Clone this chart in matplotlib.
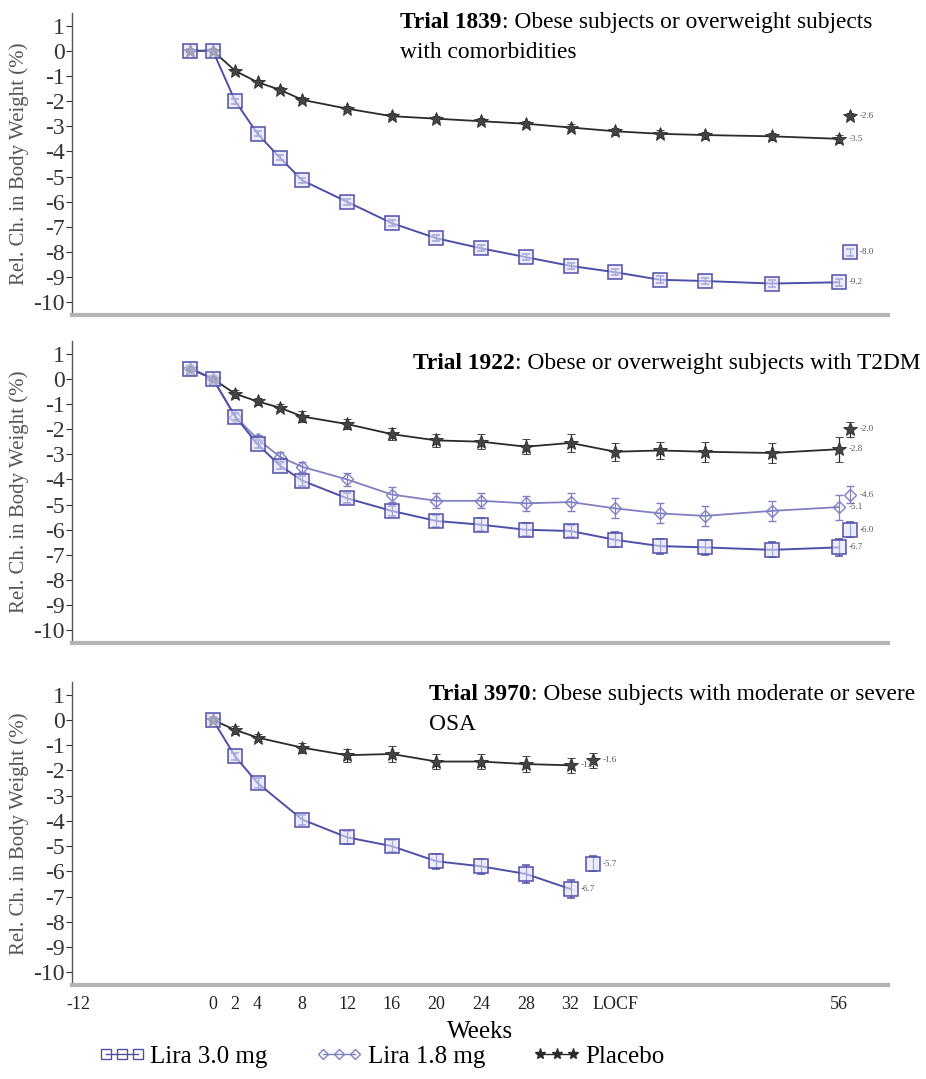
import matplotlib
matplotlib.use('Agg')
import matplotlib.pyplot as plt
from matplotlib.lines import Line2D

plt.rcParams['font.family'] = ['Liberation Serif', 'DejaVu Serif']
plt.rcParams['axes.unicode_minus'] = False

# ---------------- data ----------------
# Trial 1839
weeks_1839 = [-2, 0, 2, 4, 6, 8, 12, 16, 20, 24, 28, 32, 36, 40, 44, 50, 56]
lira30_1839 = [0, 0, -2.0, -3.3, -4.25, -5.15, -6.0, -6.85, -7.45, -7.85, -8.2, -8.55, -8.8, -9.1, -9.15, -9.25, -9.2]
lira30_1839_err = [0.05, 0.05, 0.1, 0.1, 0.1, 0.1, 0.12, 0.12, 0.12, 0.12, 0.12, 0.12, 0.13, 0.13, 0.13, 0.14, 0.14]
placebo_1839 = [0, 0, -0.8, -1.25, -1.55, -1.95, -2.3, -2.6, -2.7, -2.8, -2.9, -3.05, -3.2, -3.3, -3.35, -3.4, -3.5]
placebo_1839_err = [0.05, 0.05, 0.08, 0.1, 0.1, 0.1, 0.1, 0.12, 0.12, 0.12, 0.12, 0.13, 0.13, 0.14, 0.14, 0.15, 0.15]
locf_x_1839 = 57
lira30_1839_locf = -8.0
placebo_1839_locf = -2.6

# Trial 1922
weeks_1922 = [-2, 0, 2, 4, 6, 8, 12, 16, 20, 24, 28, 32, 36, 40, 44, 50, 56]
lira30_1922 = [0.4, 0, -1.5, -2.6, -3.45, -4.05, -4.75, -5.25, -5.65, -5.8, -6.0, -6.05, -6.4, -6.65, -6.7, -6.8, -6.7]
lira30_1922_err = [0.1, 0.1, 0.15, 0.15, 0.15, 0.2, 0.2, 0.2, 0.25, 0.25, 0.25, 0.25, 0.3, 0.3, 0.3, 0.3, 0.35]
lira18_1922 = [0.4, 0, -1.5, -2.4, -3.1, -3.5, -4.0, -4.6, -4.85, -4.85, -4.95, -4.9, -5.15, -5.35, -5.45, -5.25, -5.1]
lira18_1922_err = [0.1, 0.1, 0.15, 0.15, 0.2, 0.2, 0.25, 0.3, 0.3, 0.3, 0.3, 0.35, 0.4, 0.4, 0.4, 0.4, 0.5]
placebo_1922 = [0.4, 0, -0.6, -0.9, -1.15, -1.5, -1.8, -2.2, -2.45, -2.5, -2.7, -2.55, -2.9, -2.85, -2.9, -2.95, -2.8]
placebo_1922_err = [0.1, 0.1, 0.15, 0.15, 0.15, 0.2, 0.2, 0.25, 0.25, 0.3, 0.3, 0.35, 0.35, 0.35, 0.4, 0.4, 0.5]
locf_x_1922 = 57
lira30_1922_locf = -6.0
lira18_1922_locf = -4.6
placebo_1922_locf = -2.0
locf_err_1922 = [0.3, 0.35, 0.3]

# Trial 3970
weeks_3970 = [0, 2, 4, 8, 12, 16, 20, 24, 28, 32]
lira30_3970 = [0, -1.45, -2.5, -3.95, -4.65, -5.0, -5.6, -5.8, -6.1, -6.7]
lira30_3970_err = [0.1, 0.15, 0.2, 0.2, 0.25, 0.25, 0.3, 0.3, 0.35, 0.35]
placebo_3970 = [0, -0.4, -0.7, -1.1, -1.4, -1.35, -1.65, -1.65, -1.75, -1.8]
placebo_3970_err = [0.1, 0.15, 0.15, 0.2, 0.25, 0.3, 0.3, 0.3, 0.3, 0.3]
locf_x_3970 = 34
lira30_3970_locf = -5.7
placebo_3970_locf = -1.6
locf_err_3970 = [0.3, 0.3]

xtick_pos = [-12, 0, 2, 4, 8, 12, 16, 20, 24, 28, 32, 36, 56]
xtick_labels = ['-12', '0', '2', '4', '8', '12', '16', '20', '24', '28', '32', 'LOCF', '56']
ytick_vals = [1, 0, -1, -2, -3, -4, -5, -6, -7, -8, -9, -10]

# ---------------- styles ----------------
C30 = '#4f4fa8'
C18 = '#8080c4'
CPL = '#2b2b2b'
sty30 = dict(color=C30, marker='s', ms=10, mfc=(0.88, 0.88, 0.97, 0.6), mec=C30, mew=1.1, lw=1.4)
sty18 = dict(color=C18, marker='D', ms=6.5, mfc='none', mec=C18, mew=1.0, lw=1.3)
stypl = dict(color=CPL, marker='*', ms=10, mfc='#444444', mec=CPL, mew=0.6, lw=1.3)

TFS = 16.8

W, H = 926, 1079
fig = plt.figure(figsize=(W / 100, H / 100), dpi=100)

left = 72 / W
width = (888 - 72) / W
panels = [(13, 315), (341, 643), (682, 985)]
axes = []
for top, bot in panels:
    ax = fig.add_axes([left, 1 - bot / H, width, (bot - top) / H])
    axes.append(ax)

def style_ax(ax, show_x):
    ax.set_xlim(-12.6, 60.4)
    ax.set_ylim(-10.5, 1.5)
    for s in ('top', 'right'):
        ax.spines[s].set_visible(False)
    ax.spines['left'].set_color('#555555')
    ax.spines['left'].set_linewidth(1.0)
    ax.spines['bottom'].set_color('#b4b4b4')
    ax.spines['bottom'].set_linewidth(3.0)
    ax.set_yticks(ytick_vals)
    ax.set_yticklabels([str(v) for v in ytick_vals])
    ax.tick_params(axis='y', labelsize=17, colors='#333333', length=4, width=0.8, pad=1)
    ax.set_ylabel('Rel. Ch. in Body Weight (%)', fontsize=15, color='#555555', labelpad=3)
    if show_x:
        ax.set_xticks(xtick_pos)
        ax.set_xticklabels(xtick_labels)
        ax.tick_params(axis='x', labelsize=13, length=0, pad=8, colors='#222222')
        ax.set_xlabel('Weeks', fontsize=18, labelpad=6)
    else:
        ax.set_xticks([])

def series(ax, x, y, err, sty, lx, ly, lerr):
    ax.errorbar(x, y, yerr=err, capsize=3, elinewidth=0.9, capthick=0.9, **sty)
    s2 = dict(sty)
    s2['lw'] = 0
    ax.errorbar([lx], [ly], yerr=[lerr], capsize=3, elinewidth=0.9, capthick=0.9, **s2)
    ax.text(x[-1] + 0.9, y[-1], f'{y[-1]:.1f}', fontsize=6.5, color='#555555', va='center', ha='left')
    ax.text(lx + 0.9, ly, f'{ly:.1f}', fontsize=6.5, color='#555555', va='center', ha='left')

def title(ax, x, y, bold, rest, second=None):
    t = ax.text(x, y, bold, transform=ax.transAxes, fontsize=TFS, fontweight='bold',
                ha='left', va='bottom')
    ax.annotate(rest, xy=(1, 0), xycoords=t, fontsize=TFS, ha='left', va='bottom')
    if second:
        ax.text(x, y - 0.1, second, transform=ax.transAxes, fontsize=TFS, ha='left', va='bottom')

# Panel 1
ax = axes[0]
style_ax(ax, False)
series(ax, weeks_1839, placebo_1839, placebo_1839_err, stypl, locf_x_1839, placebo_1839_locf, 0.12)
series(ax, weeks_1839, lira30_1839, lira30_1839_err, sty30, locf_x_1839, lira30_1839_locf, 0.14)
title(ax, 0.402, 0.935, 'Trial 1839', ': Obese subjects or overweight subjects', 'with comorbidities')

# Panel 2
ax = axes[1]
style_ax(ax, False)
series(ax, weeks_1922, placebo_1922, placebo_1922_err, stypl, locf_x_1922, placebo_1922_locf, locf_err_1922[2])
series(ax, weeks_1922, lira18_1922, lira18_1922_err, sty18, locf_x_1922, lira18_1922_locf, locf_err_1922[1])
series(ax, weeks_1922, lira30_1922, lira30_1922_err, sty30, locf_x_1922, lira30_1922_locf, locf_err_1922[0])
title(ax, 0.418, 0.89, 'Trial 1922', ': Obese or overweight subjects with T2DM')

# Panel 3
ax = axes[2]
style_ax(ax, True)
series(ax, weeks_3970, placebo_3970, placebo_3970_err, stypl, locf_x_3970, placebo_3970_locf, locf_err_3970[1])
series(ax, weeks_3970, lira30_3970, lira30_3970_err, sty30, locf_x_3970, lira30_3970_locf, locf_err_3970[0])
title(ax, 0.438, 0.925, 'Trial 3970', ': Obese subjects with moderate or severe', 'OSA')

handles = [
    Line2D([0], [0], color=C30, marker='s', ms=7, mfc='none', mec=C30, lw=1.0),
    Line2D([0], [0], color=C18, marker='D', ms=5, mfc='none', mec=C18, lw=1.0),
    Line2D([0], [0], color=CPL, marker='*', ms=8, mfc=CPL, mec=CPL, lw=1.0),
]
fig.legend(handles, ['Lira 3.0 mg', 'Lira 1.8 mg', 'Placebo'], loc='lower left',
           bbox_to_anchor=(78 / W, -0.008), ncol=3, frameon=False, fontsize=18,
           numpoints=3, handlelength=1.9, handletextpad=0.2, columnspacing=1.9,
           borderpad=0.3)

fig.savefig('out.png', dpi=100)
